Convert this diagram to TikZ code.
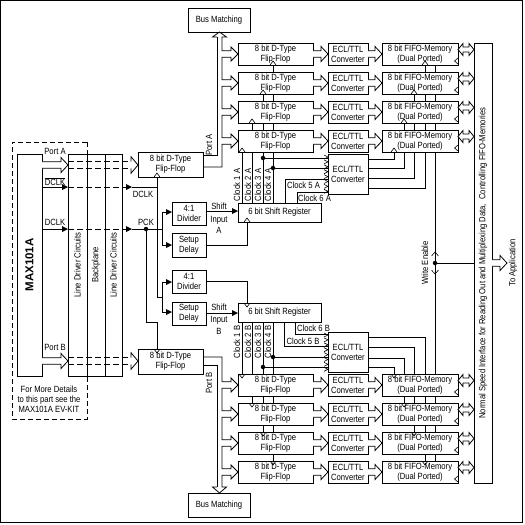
\documentclass[tikz,border=0pt]{standalone}
\usepackage{fontspec}
\setmainfont[FakeStretch=0.85]{Liberation Sans}
\newfontfamily\maxfont{Liberation Sans}
\newcommand\bx[6]{\node[box,minimum width=#4pt,minimum height=#5pt,anchor=north west] (#1) at (#2,#3) {#6};}
\newcommand\harr[3]{\draw[fill=white] ({#1},{#3-3.3}) -- ({#2-7},{#3-3.3}) -- ({#2-7},{#3-7.5}) -- ({#2},{#3}) -- ({#2-7},{#3+7.5}) -- ({#2-7},{#3+3.3}) -- ({#1},{#3+3.3});}
\newcommand\ckup[2]{\draw[line width=0.6pt] ({#1-3},{#2}) -- ({#1},{#2-4}) -- ({#1+3},{#2});}
\newcommand\ckdn[2]{\draw[line width=0.6pt] ({#1-3},{#2}) -- ({#1},{#2+4}) -- ({#1+3},{#2});}
\newcommand\rtri[2]{\draw[line width=0.6pt] ({#1},{#2-3}) -- ({#1-3.5},{#2}) -- ({#1},{#2+3});}
\newcommand\chev[2]{\draw[line width=0.6pt] ({#1-4},{#2-2}) -- ({#1},{#2}) -- ({#1-4},{#2+2});}
\newcommand\farr[2]{\fill ({#1-6},{#2-3}) -- ({#1},{#2}) -- ({#1-6},{#2+3}) -- cycle;}
\newcommand\dbl[1]{\draw[fill=white] (458,{#1}) -- (463,{#1-6}) -- (463,{#1-2.5}) -- (469,{#1-2.5}) -- (469,{#1-6}) -- (474,{#1}) -- (469,{#1+6}) -- (469,{#1+2.5}) -- (463,{#1+2.5}) -- (463,{#1+6}) -- cycle;}
\begin{document}
\begin{tikzpicture}[x=1pt,y=-1pt,line width=0.8pt,
  box/.style={draw,fill=white,inner sep=0pt,outer sep=0pt,align=center,font=\fontsize{9}{10}\selectfont},
  lbl/.style={inner sep=0pt,font=\fontsize{9}{10}\selectfont,align=center},
  rl/.style={lbl,rotate=90},
  jdot/.style={circle,fill,inner sep=0pt,minimum size=4.5pt}]
\useasboundingbox (0,0) rectangle (525,525);
\draw[line width=1.3pt] (0.8,0.8) rectangle (522.5,522.5);

% ---------- background lines ----------
% clocks from shift register A
\draw (242,203) -- (242,152);
\draw (252,203) -- (252,123);
\draw (263,203) -- (263,94);
\draw (273,203) -- (273,65);
\draw (263,158) -- (328,158);
\draw (273,168) -- (328,168);
\draw (285,203) -- (285,179) -- (328,179);
\draw (297,203) -- (297,192) -- (328,192);
% clocks from shift register B
\draw (242,322) -- (242,374);
\draw (252,322) -- (252,403);
\draw (263,322) -- (263,432);
\draw (273,322) -- (273,461);
\draw (273,357) -- (328,357);
\draw (263,367) -- (328,367);
\draw (295,322) -- (295,334) -- (328,334);
\draw (284,322) -- (284,346) -- (328,346);
% ECL A outputs
\draw (368,159) -- (394,159) -- (394,152);
\draw (368,168) -- (404,168) -- (404,123);
\draw (368,178) -- (414,178) -- (414,94);
\draw (368,188) -- (425,188) -- (425,65);
% ECL B outputs
\draw (368,337) -- (425,337) -- (425,461);
\draw (368,347) -- (414,347) -- (414,432);
\draw (368,358) -- (404,358) -- (404,403);
\draw (368,367) -- (394,367) -- (394,374);
% write enable
\draw (435,65) -- (435,461);
\draw (435,263) -- (474,263);

% ---------- boxes ----------
\bx{busA}{188}{8}{62}{24}{Bus Matching}
\bx{busB}{188}{493}{62}{24}{Bus Matching}
\foreach \n/\y in {1/43,2/72,3/101,4/130}{
  \bx{ffa\n}{238}{\y}{75}{22}{8 bit D-Type\\Flip-Flop}
  \bx{ecla\n}{328}{\y}{40}{22}{ECL/TTL\\Converter}
  \bx{fifoa\n}{382}{\y}{76}{22}{8 bit FIFO-Memory\\(Dual Ported)}
}
\foreach \n/\y in {1/374,2/403,3/432,4/461}{
  \bx{ffb\n}{238}{\y}{75}{22}{8 bit D-Type\\Flip-Flop}
  \bx{eclb\n}{328}{\y}{40}{22}{ECL/TTL\\Converter}
  \bx{fifob\n}{382}{\y}{76}{22}{8 bit FIFO-Memory\\(Dual Ported)}
}
\bx{eclA}{328}{154}{40}{40}{ECL/TTL\\Converter}
\bx{eclB}{328}{332}{40}{40}{ECL/TTL\\Converter}
\bx{iface}{474}{43}{18}{440}{}
\bx{ffpa}{138}{152}{65}{25}{8 bit D-Type\\Flip-Flop}
\bx{ffpb}{138}{349}{65}{25}{8 bit D-Type\\Flip-Flop}
\bx{divA}{172}{202}{34}{23}{4:1\\Divider}
\bx{setA}{172}{233}{34}{24}{Setup\\Delay}
\bx{divB}{172}{270}{34}{23}{4:1\\Divider}
\bx{setB}{172}{302}{34}{23}{Setup\\Delay}
\bx{srA}{238}{203}{83}{19}{6 bit Shift Register}
\bx{srB}{238}{303}{83}{19}{6 bit Shift Register}
\bx{max}{17}{154}{25}{222}{}
\bx{ld1}{68}{154}{19}{222}{}
\bx{bp}{87}{154}{18}{222}{}
\bx{ld2}{105}{154}{17}{222}{}
\draw[dash pattern=on 5pt off 3pt] (87,142) -- (12,142) -- (12,419) -- (87,419) -- (87,376);
\draw[dash pattern=on 5pt off 3pt] (87,142) -- (87,154);

% ---------- box texts (rotated) ----------
\node[rl,font=\maxfont\bfseries\fontsize{11.5}{12}\selectfont] (tmax) at (max.center) {MAX101A};
\node[rl] (tld1) at (ld1.center) {Line Driver Circuits};
\node[rl] (tbp) at (bp.center) {Backplane};
\node[rl] (tld2) at (ld2.center) {Line Driver Circuits};
\node[rl] (tif) at (iface.center) {Normal Speed Interface for Reading Out and Multiplexing Data,\ \ Controlling FIFO-Memories};
\node[lbl] (tmore) at (49,399) {For More Details\\to this part see the\\MAX101A EV-KIT};

% ---------- port buses ----------
\harr{42}{68}{165}
\draw[dash pattern=on 6pt off 3pt] (68,161.7) -- (131,161.7) (68,168.3) -- (131,168.3);
\draw[fill=white] (131,161.7) -- (131,156.7) -- (138,165) -- (131,173.3) -- (131,168.3);
\harr{42}{68}{361}
\draw[dash pattern=on 6pt off 3pt] (68,357.7) -- (131,357.7) (68,364.3) -- (131,364.3);
\draw[fill=white] (131,357.7) -- (131,352.7) -- (138,361) -- (131,369.3) -- (131,364.3);
\node[lbl] (tpa) at (55,151.5) {Port A};
\node[lbl] (tpb) at (55,347.5) {Port B};

% DCLK bar
\draw (42,187) -- (62,187);
\farr{68}{187}
\draw[dash pattern=on 6pt off 3pt] (68,187) -- (126,187);
\farr{132}{187}
\draw (132,187) -- (157,187);
\draw (157,177) -- (157,297) -- (162,297);
\draw (162,282) -- (166,282); \farr{172}{282}
\draw (162,282) -- (162,312) -- (166,312); \farr{172}{312}
\node[lbl] (tdclkb) at (55,181.5) {$\overline{\hbox{DCLK}}$};
\node[lbl] (tdclk2) at (143,194.5) {DCLK};
% DCLK / PCK
\draw (42,229) -- (62,229);
\farr{68}{229}
\draw[dash pattern=on 6pt off 3pt] (68,229) -- (126,229);
\farr{132}{229}
\draw (132,229) -- (162,229);
\draw (162,212) -- (162,245);
\draw (162,212) -- (166,212); \farr{172}{212}
\draw (162,245) -- (166,245); \farr{172}{245}
\draw (146,229) -- (146,322) -- (157,322) -- (157,349);
\node[jdot] (jp) at (146,229) {};
\node[lbl] (tdclk) at (55,222) {DCLK};
\node[lbl] (tpck) at (146,222) {PCK};

% dividers / setup to shift registers
\draw (206,211) -- (232,211); \farr{238}{211}
\draw (206,245) -- (247,245) -- (247,222);
\draw (206,281) -- (247,281) -- (247,303);
\draw (206,313) -- (232,313); \farr{238}{313}
\node[lbl] (tsa1) at (219,206.5) {Shift};
\node[lbl] (tsa2) at (219,220) {Input};
\node[lbl] (tsa3) at (219,230.5) {A};
\node[lbl] (tsb1) at (219,307) {Shift};
\node[lbl] (tsb2) at (219,320) {Input};
\node[lbl] (tsb3) at (219,331.5) {B};

% clock labels
\foreach \x/\k in {237/1,248/2,258/3,268/4}{
  \node[rl] (tca\k) at (\x,185) {Clock \k\ A};
  \node[rl] (tcb\k) at (\x,342) {Clock \k\ B};
}
\node[lbl] (tc5a) at (303.5,185.5) {Clock 5 A};
\node[lbl] (tc6a) at (314.5,198) {Clock 6 A};
\node[lbl] (tc6b) at (313.5,328.5) {Clock 6 B};
\node[lbl] (tc5b) at (303,341) {Clock 5 B};
\node[jdot] (j1) at (263,158) {};
\node[jdot] (j2) at (273,168) {};
\node[jdot] (j3) at (273,357) {};
\node[jdot] (j4) at (263,367) {};
\foreach \y in {157,161.9,166.8,171.7,176.6,181.5,186.4,191.3}{\chev{328}{\y}}
\foreach \y in {335,339.9,344.8,349.7,354.6,359.5,364.4,369.3}{\chev{328}{\y}}

% bus A
\draw (203,155) -- (217,155) -- (217,37);
\draw (217,37) -- (212.5,37) -- (219.5,32) -- (226.5,37) -- (222,37)
  -- (222,50.7) -- (231,50.7) -- (231,47) -- (238,54) -- (231,61) -- (231,57.3) -- (222,57.3)
  -- (222,79.7) -- (231,79.7) -- (231,76) -- (238,83) -- (231,90) -- (231,86.3) -- (222,86.3)
  -- (222,108.7) -- (231,108.7) -- (231,105) -- (238,112) -- (231,119) -- (231,115.3) -- (222,115.3)
  -- (222,137.7) -- (231,137.7) -- (231,134) -- (238,141) -- (231,148) -- (231,144.3) -- (222,144.3)
  -- (222,167) -- (203,167);
\node[rl] (tporta) at (209,145) {Port A};
% bus B
\draw (203,365) -- (217,365) -- (217,487);
\draw (203,357) -- (222,357)
  -- (222,381.7) -- (231,381.7) -- (231,378) -- (238,385) -- (231,392) -- (231,388.3) -- (222,388.3)
  -- (222,410.7) -- (231,410.7) -- (231,407) -- (238,414) -- (231,421) -- (231,417.3) -- (222,417.3)
  -- (222,439.7) -- (231,439.7) -- (231,436) -- (238,443) -- (231,450) -- (231,446.3) -- (222,446.3)
  -- (222,468.7) -- (231,468.7) -- (231,465) -- (238,472) -- (231,479) -- (231,475.3) -- (222,475.3)
  -- (222,487) -- (226.5,487) -- (219.5,493) -- (212.5,487) -- (217,487);
\node[rl] (tportb) at (209,383) {Port B};

% row arrows
\foreach \y in {54,83,112,141,385,414,443,472}{
  \harr{313}{328}{\y}
  \harr{368}{382}{\y}
}
\foreach \t in {43,72,101,130,374,403,432,461}{
  \dbl{\t+6.5}
  \rtri{458}{\t+18}
}

% clock markers
\ckup{157}{177} \ckdn{157}{349}
\ckup{247}{222} \ckdn{247}{303}
\ckup{273}{65} \ckup{263}{94} \ckup{252}{123} \ckup{242}{152}
\ckdn{242}{374} \ckdn{252}{403} \ckdn{263}{432} \ckdn{273}{461}
\ckup{425}{65} \ckup{414}{94} \ckup{404}{123} \ckup{394}{152}
\ckdn{394}{374} \ckdn{404}{403} \ckdn{414}{432} \ckdn{425}{461}

% write enable
\node[jdot] (jw) at (435,263) {};
\draw[line width=0.6pt] (431.5,256) -- (435,252) -- (438.5,256);
\draw[line width=0.6pt] (431.5,270) -- (435,274) -- (438.5,270);
\node[rl] (twe) at (425,263) {Write Enable};
\harr{492}{507}{263}
\node[rl] (tapp) at (513,263) {To Application};
\end{tikzpicture}
\end{document}
